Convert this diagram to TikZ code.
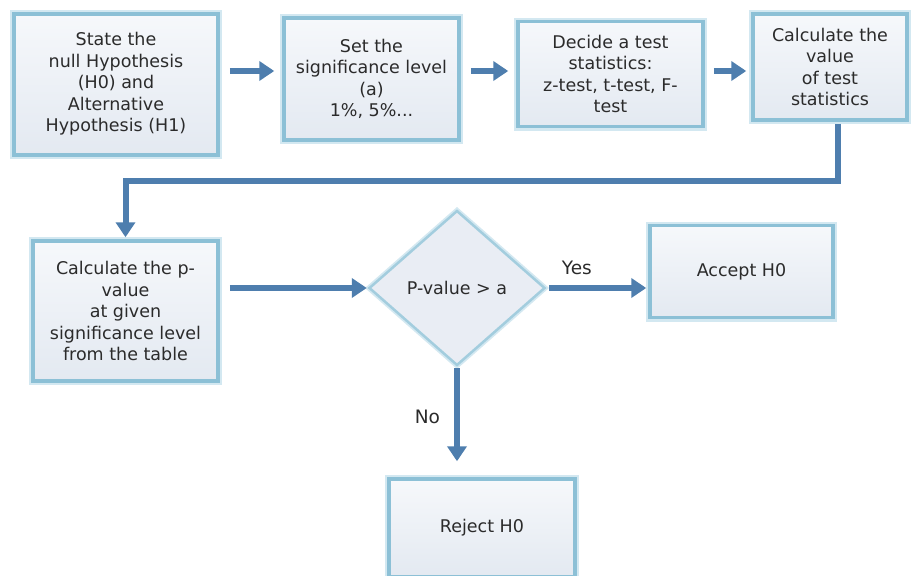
\documentclass[tikz,border=0pt]{standalone}
\usepackage{fontspec}
\setmainfont{DejaVu Sans}
\usetikzlibrary{shapes.geometric,arrows.meta}
\definecolor{arrowblue}{HTML}{4E7EAE}
\definecolor{boxedge}{HTML}{8CC0D6}
\definecolor{boxglow}{HTML}{D3E8F1}
\definecolor{boxtop}{HTML}{F6F8FB}
\definecolor{boxbot}{HTML}{E3E9F1}
\definecolor{txt}{HTML}{2B2B2B}
\tikzset{
  stepbox/.style={rectangle, inner sep=0pt, align=center, text=txt,
    font=\fontsize{17.5}{21.5}\selectfont,
    top color=boxtop, bottom color=boxbot, draw=boxedge, line width=3.5pt,
    preaction={draw=boxglow, line width=8pt}},
  decision/.style={diamond, inner sep=0pt, align=center, text=txt,
    font=\fontsize{17.5}{21.5}\selectfont,
    fill=boxbot!80!white, draw=boxedge!80!white, line width=2.5pt,
    preaction={draw=boxglow, line width=6pt}},
  arr/.style={draw=arrowblue, line width=6pt,
    -{Triangle[width=19pt,length=15pt]}},
  lbl/.style={text=txt, font=\fontsize{18.5}{22}\selectfont, inner sep=0pt}
}
\begin{document}
\begin{tikzpicture}[x=1pt,y=-1pt]
\useasboundingbox (0,0) rectangle (911,576);
\fill[white] (0,0) rectangle (911,576);
\coordinate (row) at (0,71);
\coordinate (bendy) at (0,181);
\node[stepbox, minimum width=204pt, minimum height=141pt] (b1) at (116,84.5)
  {\raisebox{-4pt}{\begin{tabular}{@{}c@{}}State the\\null Hypothesis\\(H0) and\\Alternative\\Hypothesis (H1)\end{tabular}}};
\node[stepbox, minimum width=175pt, minimum height=122pt] (b2) at (371.5,79)
  {Set the\\significance level\\(a)\\1\%, 5\%...};
\node[stepbox, minimum width=185pt, minimum height=105pt] (b3) at (610.5,74)
  {Decide a test\\statistics:\\z-test, t-test, F-\\test};
\node[stepbox, minimum width=154pt, minimum height=106pt] (b4) at (830,67)
  {Calculate the\\value\\of test\\statistics};
\node[stepbox, minimum width=185pt, minimum height=140pt] (b5) at (125.5,311)
  {Calculate the p-\\value\\at given\\significance level\\from the table};
\node[decision, minimum width=176pt, minimum height=155pt] (d) at (457,288)
  {P-value > a};
\node[stepbox, minimum width=183pt, minimum height=92pt] (acc) at (741.5,271.5)
  {Accept H0};
\node[stepbox, minimum width=186pt, minimum height=98pt] (rej) at (482,528)
  {Reject H0};

\draw[arr, shorten <=10pt, shorten >=8pt] (b1.east |- row) -- (b2.west |- row);
\draw[arr, shorten <=10pt, shorten >=8pt] (b2.east |- row) -- (b3.west |- row);
\draw[arr, shorten <=9pt, shorten >=5pt] (b3.east |- row) -- (b4.west |- row);
\draw[arr, shorten <=2pt, shorten >=2pt] ([xshift=8pt]b4.south) |- (b5.north |- bendy) -- (b5.north);
\draw[arr, shorten <=10pt, shorten >=1pt] (b5.east |- d.west) -- (d.west);
\draw[arr, shorten <=3pt, shorten >=2pt] (d.east) -- (acc.west |- d.east)
  node[lbl, pos=0.3, above=10pt] (yes) {Yes};
\draw[arr, shorten <=1pt, shorten >=16pt] (d.south) -- (d.south |- rej.north)
  node[lbl, pos=0.45, left=14pt] (no) {No};
\end{tikzpicture}
\end{document}
